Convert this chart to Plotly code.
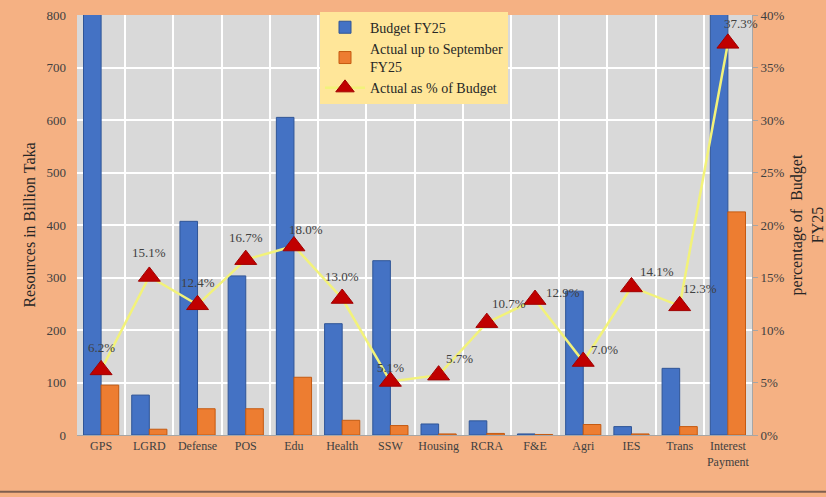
import plotly.graph_objects as go

# sectors along the x axis
sectors = ["GPS", "LGRD", "Defense", "POS", "Edu", "Health", "SSW", "Housing",
           "RCRA", "F&E", "Agri", "IES", "Trans", "Interest<br>Payment"]

# billion Taka (GPS and Interest Payment budgets run off the top of the chart)
budget_fy25 = [1516, 76, 407, 303, 605, 212, 332, 21, 27, 2, 274, 16, 127, 1139]
actual_sep_fy25 = [95, 11, 50, 50, 110, 28, 18, 2, 3, 1, 20, 2, 16, 425]

# actual as % of budget
pct_of_budget = [6.2, 15.1, 12.4, 16.7, 18.0, 13.0, 5.1, 5.7, 10.7, 12.9, 7.0, 14.1, 12.3, 37.3]

# pixel nudges for the % labels (x, y), as placed in the original
label_dx = [0, 0, 0, 0, 12, 0, 0, 21, 22, 28, 21, 26, 20, 13]
label_dy = [22, 24, 22, 22, 17, 22, 14, 17, 19, 7, 12, 15, 17, 20]

serif = "Liberation Serif"

fig = go.Figure()
fig.add_trace(go.Bar(
    x=sectors, y=budget_fy25, name="Budget FY25",
    marker=dict(color="#4472C4", line=dict(color="#2F5597", width=1)),
))
fig.add_trace(go.Bar(
    x=sectors, y=actual_sep_fy25, name="Actual up to September<br>FY25",
    marker=dict(color="#ED7D31", line=dict(color="#C55A11", width=1)),
))
fig.add_trace(go.Scatter(
    x=sectors, y=pct_of_budget, name="Actual as % of Budget", yaxis="y2",
    mode="lines+markers",
    line=dict(color="#F2F27A", width=2.5),
    marker=dict(symbol="triangle-up", size=19, color="#C00000",
                line=dict(color="#A00000", width=1)),
    cliponaxis=False,
))

# % labels
for s, v, dx, dy in zip(sectors, pct_of_budget, label_dx, label_dy):
    fig.add_annotation(
        x=s, y=v, xref="x", yref="y2", text=f"{v:.1f}%", showarrow=False,
        xshift=dx, yshift=dy,
        font=dict(family=serif, size=13, color="#404040"),
    )

fig.update_layout(
    width=826, height=497,
    margin=dict(l=77, r=74, t=13, b=62),
    paper_bgcolor="#F5B183",
    plot_bgcolor="#D9D9D9",
    barmode="group",
    bargap=0.27,
    bargroupgap=0,
    font=dict(family=serif, size=12, color="#404040"),
    showlegend=True,
    legend=dict(
        x=0.36, y=1.008, xanchor="left", yanchor="top",
        bgcolor="#FFE699",
        font=dict(family=serif, size=14, color="#262626"),
        tracegroupgap=6,
        itemwidth=40,
        entrywidth=170,
    ),
    xaxis=dict(
        range=[-0.5, 13.5],
        tickson="boundaries", tickangle=0, automargin=False,
        showgrid=True, gridcolor="white", gridwidth=1.5,
        showline=True, linecolor="#A6A6A6",
        ticks="", tickfont=dict(family=serif, size=12, color="#404040"),
    ),
    yaxis=dict(
        range=[0, 800], dtick=100, automargin=False,
        showgrid=True, gridcolor="white", gridwidth=1.5,
        zeroline=False, ticklabelstandoff=10,
        title=dict(text="Resources in Billion Taka",
                   font=dict(family=serif, size=16, color="#262626"), standoff=6),
        tickfont=dict(family=serif, size=13, color="#404040"),
    ),
    yaxis2=dict(
        overlaying="y", side="right",
        range=[0, 40], dtick=5, ticksuffix="%", automargin=False,
        showgrid=False, zeroline=False,
        showline=True, linecolor="#A6A6A6",
        ticks="outside", ticklen=5, tickcolor="#A6A6A6",
        title=dict(text="percentage of  Budget<br>FY25",
                   font=dict(family=serif, size=16, color="#262626"), standoff=16),
        tickfont=dict(family=serif, size=13, color="#404040"),
    ),
)

fig.add_shape(type="line", xref="paper", yref="paper", x0=-0.12, x1=1.12, y0=-0.135, y1=-0.135,
              line=dict(color="#7F5F4F", width=2))

# drop the page's default body margin so the figure fills the window
fig.write_html("out.html", config={"displayModeBar": False},
               post_script="document.body.style.margin='0';")
